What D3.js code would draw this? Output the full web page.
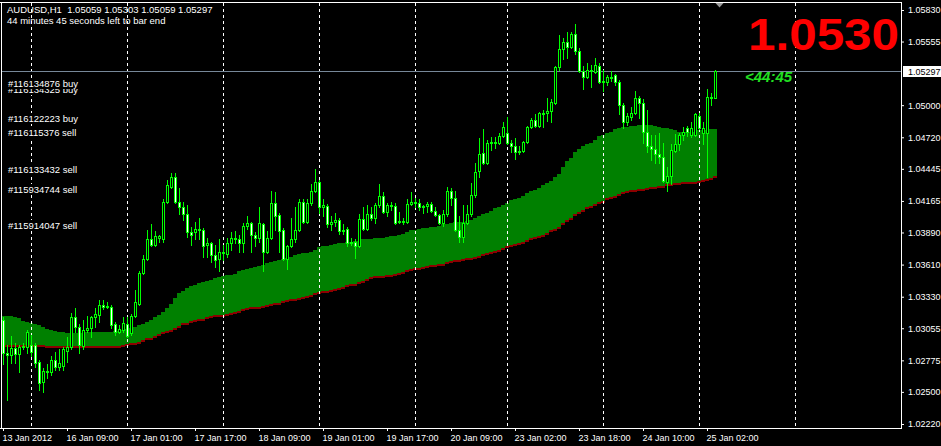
<!DOCTYPE html>
<html><head><meta charset="utf-8">
<script src="https://cdn.jsdelivr.net/npm/d3@7"></script>
<style>
html,body{margin:0;padding:0;background:#000;overflow:hidden}
svg{display:block}
text{font-family:"Liberation Sans",Arial,sans-serif}
</style></head><body><svg id="c" width="941" height="446"></svg>
<script>
// ---------------- DATA ----------------
const symbolTitle = "AUDUSD,H1";
const currentOHLC = [1.05059, 1.05303, 1.05059, 1.05297];
const timerText = "44 minutes 45 seconds left to bar end";
const bigPriceText = "1.0530";
const countdownText = "<44:45";

const open = [
1.0313,1.0284,1.0282,1.0288,1.0283,1.0289,1.0289,1.0291,1.0291,1.0276,
1.0259,1.0268,1.0267,1.0278,1.0272,1.0273,1.0286,1.0289,1.0315,1.0307,
1.0290,1.0304,1.0306,1.0315,1.0317,1.0326,1.0324,1.0324,1.0309,1.0302,
1.0304,1.0309,1.0301,1.0316,1.0327,1.0354,1.0366,1.0383,1.0378,1.0384,
1.0383,1.0416,1.0429,1.0437,1.0416,1.0411,1.0405,1.0389,1.0389,1.0392,
1.0391,1.0378,1.0380,1.0369,1.0366,1.0372,1.0370,1.0380,1.0384,1.0383,
1.0380,1.0395,1.0397,1.0387,1.0384,1.0396,1.0372,1.0384,1.0415,1.0404,
1.0391,1.0366,1.0377,1.0383,1.0391,1.0416,1.0398,1.0415,1.0425,1.0433,
1.0411,1.0412,1.0396,1.0398,1.0400,1.0390,1.0392,1.0380,1.0381,1.0377,
1.0401,1.0392,1.0405,1.0402,1.0413,1.0421,1.0407,1.0413,1.0412,1.0398,
1.0399,1.0398,1.0414,1.0416,1.0415,1.0411,1.0412,1.0414,1.0408,1.0404,
1.0397,1.0405,1.0425,1.0419,1.0391,1.0385,1.0397,1.0405,1.0422,1.0443,
1.0458,1.0450,1.0467,1.0468,1.0467,1.0473,1.0476,1.0467,1.0464,1.0459,
1.0460,1.0468,1.0481,1.0487,1.0482,1.0493,1.0493,1.0495,1.0502,1.0533,
1.0549,1.0555,1.0551,1.0562,1.0547,1.0530,1.0525,1.0531,1.0529,1.0534,
1.0520,1.0520,1.0525,1.0526,1.0520,1.0500,1.0485,1.0490,1.0493,1.0506,
1.0502,1.0477,1.0464,1.0462,1.0457,1.0455,1.0433,1.0438,1.0460,1.0466,
1.0474,1.0480,1.0474,1.0474,1.0491,1.0476,1.0476,1.0506,1.05059];

const high = [
1.0315,1.0291,1.0299,1.0293,1.0291,1.0293,1.0304,1.0300,1.0293,1.0278,
1.0271,1.0274,1.0281,1.0285,1.0287,1.0289,1.0298,1.0319,1.0323,1.0309,
1.0313,1.0316,1.0316,1.0323,1.0330,1.0330,1.0328,1.0326,1.0311,1.0308,
1.0315,1.0315,1.0318,1.0339,1.0355,1.0369,1.0391,1.0396,1.0390,1.0387,
1.0418,1.0435,1.0441,1.0441,1.0428,1.0416,1.0413,1.0394,1.0398,1.0402,
1.0393,1.0384,1.0381,1.0378,1.0383,1.0378,1.0384,1.0389,1.0390,1.0387,
1.0397,1.0403,1.0398,1.0389,1.0411,1.0397,1.0390,1.0425,1.0424,1.0406,
1.0393,1.0378,1.0402,1.0411,1.0418,1.0418,1.0418,1.0431,1.0444,1.0435,
1.0418,1.0414,1.0403,1.0406,1.0402,1.0396,1.0394,1.0384,1.0383,1.0405,
1.0411,1.0413,1.0411,1.0415,1.0431,1.0424,1.0415,1.0416,1.0415,1.0407,
1.0402,1.0418,1.0424,1.0419,1.0418,1.0413,1.0416,1.0416,1.0411,1.0405,
1.0409,1.0429,1.0428,1.0425,1.0403,1.0413,1.0413,1.0432,1.0450,1.0471,
1.0479,1.0470,1.0472,1.0472,1.0476,1.0485,1.0490,1.0470,1.0471,1.0464,
1.0469,1.0482,1.0489,1.0492,1.0494,1.0496,1.0506,1.0505,1.0534,1.0561,
1.0559,1.0564,1.0564,1.0571,1.0550,1.0534,1.0537,1.0535,1.0541,1.0537,
1.0531,1.0526,1.0530,1.0527,1.0522,1.0502,1.0493,1.0498,1.0512,1.0508,
1.0505,1.0496,1.0474,1.0474,1.0476,1.0467,1.0446,1.0466,1.0475,1.0476,
1.0481,1.0482,1.0485,1.0493,1.0493,1.0485,1.0514,1.0511,1.05303];

const low = [
1.0274,1.0243,1.0275,1.0275,1.0267,1.0287,1.0284,1.0281,1.0272,1.0252,
1.0250,1.0262,1.0265,1.0269,1.0269,1.0269,1.0276,1.0287,1.0302,1.0284,
1.0287,1.0302,1.0298,1.0307,1.0311,1.0322,1.0323,1.0306,1.0300,1.0301,
1.0302,1.0298,1.0300,1.0315,1.0326,1.0353,1.0365,1.0377,1.0377,1.0381,
1.0381,1.0415,1.0428,1.0415,1.0405,1.0400,1.0385,1.0378,1.0383,1.0383,
1.0368,1.0368,1.0363,1.0359,1.0355,1.0365,1.0368,1.0374,1.0380,1.0372,
1.0372,1.0392,1.0372,1.0377,1.0381,1.0355,1.0371,1.0383,1.0391,1.0372,
1.0365,1.0357,1.0376,1.0381,1.0390,1.0397,1.0397,1.0413,1.0424,1.0406,
1.0403,1.0394,1.0391,1.0395,1.0388,1.0388,1.0377,1.0378,1.0367,1.0376,
1.0391,1.0391,1.0400,1.0397,1.0411,1.0406,1.0403,1.0409,1.0396,1.0397,
1.0396,1.0397,1.0413,1.0411,1.0409,1.0406,1.0407,1.0407,1.0403,1.0396,
1.0395,1.0403,1.0413,1.0390,1.0381,1.0381,1.0396,1.0403,1.0420,1.0437,
1.0449,1.0449,1.0461,1.0463,1.0466,1.0472,1.0466,1.0459,1.0453,1.0457,
1.0459,1.0467,1.0480,1.0481,1.0481,1.0481,1.0486,1.0485,1.0501,1.0531,
1.0540,1.0541,1.0550,1.0545,1.0529,1.0514,1.0524,1.0516,1.0528,1.0519,
1.0512,1.0518,1.0521,1.0518,1.0492,1.0480,1.0483,1.0487,1.0492,1.0489,
1.0467,1.0459,1.0452,1.0450,1.0450,1.0433,1.0425,1.0431,1.0459,1.0461,
1.0470,1.0473,1.0472,1.0473,1.0479,1.0466,1.0437,1.0500,1.05059];

const close = [
1.0284,1.0282,1.0288,1.0283,1.0289,1.0290,1.0302,1.0285,1.0275,1.0258,
1.0268,1.0267,1.0278,1.0272,1.0275,1.0287,1.0289,1.0315,1.0307,1.0291,
1.0304,1.0306,1.0315,1.0318,1.0326,1.0324,1.0325,1.0308,1.0302,1.0305,
1.0310,1.0299,1.0316,1.0328,1.0354,1.0366,1.0383,1.0378,1.0386,1.0386,
1.0416,1.0430,1.0437,1.0416,1.0411,1.0405,1.0389,1.0387,1.0392,1.0391,
1.0377,1.0380,1.0369,1.0365,1.0372,1.0371,1.0380,1.0384,1.0383,1.0380,
1.0395,1.0397,1.0387,1.0384,1.0397,1.0372,1.0384,1.0415,1.0403,1.0390,
1.0366,1.0377,1.0383,1.0391,1.0416,1.0398,1.0415,1.0425,1.0433,1.0411,
1.0413,1.0396,1.0398,1.0400,1.0390,1.0391,1.0380,1.0381,1.0377,1.0401,
1.0392,1.0405,1.0402,1.0413,1.0421,1.0407,1.0413,1.0412,1.0397,1.0399,
1.0398,1.0414,1.0416,1.0415,1.0411,1.0412,1.0414,1.0408,1.0404,1.0397,
1.0405,1.0425,1.0419,1.0391,1.0385,1.0397,1.0405,1.0422,1.0442,1.0457,
1.0450,1.0467,1.0468,1.0467,1.0473,1.0481,1.0467,1.0464,1.0459,1.0460,
1.0468,1.0481,1.0487,1.0482,1.0493,1.0492,1.0495,1.0503,1.0533,1.0549,
1.0555,1.0551,1.0562,1.0547,1.0530,1.0525,1.0531,1.0530,1.0535,1.0520,
1.0521,1.0525,1.0524,1.0520,1.0500,1.0485,1.0491,1.0493,1.0506,1.0502,
1.0477,1.0464,1.0462,1.0457,1.0455,1.0434,1.0438,1.0461,1.0466,1.0474,
1.0477,1.0477,1.0480,1.0492,1.0480,1.0480,1.0507,1.0507,1.05297];

// envelope band (upper / lower edge per bar)
const bandUpper = [
1.0316,1.0316,1.0316,1.0315,1.0314,1.0312,1.0311,1.0310,1.0309,1.0308,
1.0307,1.0305,1.0304,1.0303,1.0302,1.0302,1.0301,1.0301,1.0301,1.0301,
1.0301,1.0302,1.0302,1.0302,1.0302,1.0302,1.0302,1.0302,1.0303,1.0303,
1.0304,1.0305,1.0306,1.0307,1.0308,1.0309,1.0311,1.0313,1.0315,1.0317,
1.0320,1.0323,1.0327,1.0332,1.0336,1.0338,1.0341,1.0342,1.0343,1.0345,
1.0346,1.0347,1.0348,1.0349,1.0350,1.0351,1.0352,1.0352,1.0353,1.0355,
1.0356,1.0357,1.0358,1.0359,1.0360,1.0361,1.0362,1.0363,1.0364,1.0365,
1.0366,1.0367,1.0368,1.0369,1.0370,1.0371,1.0371,1.0372,1.0374,1.0376,
1.0377,1.0377,1.0378,1.0379,1.0380,1.0380,1.0381,1.0381,1.0382,1.0382,
1.0383,1.0383,1.0383,1.0384,1.0384,1.0384,1.0385,1.0386,1.0386,1.0387,
1.0388,1.0389,1.0391,1.0391,1.0392,1.0393,1.0393,1.0394,1.0394,1.0395,
1.0396,1.0396,1.0397,1.0398,1.0398,1.0398,1.0399,1.0400,1.0402,1.0403,
1.0405,1.0406,1.0408,1.0410,1.0411,1.0413,1.0415,1.0417,1.0418,1.0419,
1.0421,1.0423,1.0425,1.0426,1.0428,1.0430,1.0432,1.0434,1.0437,1.0440,
1.0446,1.0451,1.0454,1.0459,1.0462,1.0464,1.0466,1.0467,1.0470,1.0473,
1.0474,1.0476,1.0477,1.0479,1.0480,1.0481,1.0481,1.0482,1.0482,1.0483,
1.0483,1.0483,1.0483,1.0482,1.0481,1.0480,1.0480,1.0479,1.0478,1.0477,
1.0477,1.0477,1.0477,1.0477,1.0478,1.0478,1.0478,1.0479,1.0479];

const bandLower = [
1.0290,1.0290,1.0290,1.0290,1.0290,1.0290,1.0290,1.0290,1.0290,1.0290,
1.0290,1.0289,1.0289,1.0289,1.0289,1.0289,1.0289,1.0289,1.0289,1.0289,
1.0289,1.0289,1.0289,1.0289,1.0289,1.0289,1.0289,1.0289,1.0289,1.0289,
1.0290,1.0291,1.0292,1.0292,1.0293,1.0294,1.0296,1.0296,1.0298,1.0300,
1.0301,1.0302,1.0303,1.0305,1.0307,1.0309,1.0309,1.0311,1.0312,1.0313,
1.0313,1.0314,1.0315,1.0316,1.0316,1.0316,1.0317,1.0318,1.0319,1.0320,
1.0321,1.0322,1.0323,1.0323,1.0323,1.0324,1.0325,1.0326,1.0327,1.0327,
1.0328,1.0329,1.0330,1.0330,1.0331,1.0332,1.0333,1.0334,1.0335,1.0336,
1.0337,1.0337,1.0338,1.0339,1.0340,1.0341,1.0342,1.0343,1.0343,1.0345,
1.0346,1.0348,1.0349,1.0350,1.0350,1.0350,1.0351,1.0351,1.0352,1.0353,
1.0354,1.0355,1.0356,1.0357,1.0357,1.0358,1.0359,1.0360,1.0360,1.0361,
1.0361,1.0362,1.0363,1.0364,1.0364,1.0365,1.0366,1.0366,1.0367,1.0368,
1.0369,1.0370,1.0371,1.0372,1.0373,1.0375,1.0376,1.0377,1.0378,1.0379,
1.0380,1.0382,1.0383,1.0384,1.0385,1.0386,1.0388,1.0390,1.0391,1.0393,
1.0396,1.0399,1.0401,1.0404,1.0406,1.0408,1.0410,1.0411,1.0413,1.0415,
1.0416,1.0418,1.0419,1.0420,1.0422,1.0423,1.0424,1.0425,1.0425,1.0426,
1.0426,1.0427,1.0428,1.0428,1.0429,1.0429,1.0430,1.0430,1.0431,1.0431,
1.0432,1.0432,1.0432,1.0432,1.0433,1.0434,1.0435,1.0436,1.0437];

const priceTicks = [1.05830,1.05555,1.05000,1.04720,1.04445,1.04165,1.03890,
                    1.03610,1.03330,1.03055,1.02775,1.02500,1.02220];
const timeTickBars = [0,16,32,48,64,80,96,112,128,144,160,176];
const timeTickLabels = ["13 Jan 2012","16 Jan 09:00","17 Jan 01:00","17 Jan 17:00",
  "18 Jan 09:00","19 Jan 01:00","19 Jan 17:00","20 Jan 09:00","23 Jan 02:00",
  "23 Jan 18:00","24 Jan 10:00","25 Jan 02:00"];
const daySeparatorBars = [7,31,55,79,103,126,150,174,198];

const orderLabelTexts = ["#116134325 buy","#116134876 buy","#116122223 buy","#116115376 sell",
  "#116133432 sell","#115934744 sell","#115914047 sell"];
const orderLabelPrices = [1.0511,1.0516,1.0485,1.0473,1.0441,1.0423,1.0392];

// ---------------- DRAW ----------------
const W = 941, H = 446;
const svg = d3.select("#c");
const x = d3.scaleLinear().domain([0, 224.5]).range([3, 901]);
const y = d3.scaleLinear().domain([1.02220, 1.05830]).range([424, 10]);
const px = k => Math.round(x(k));
const py = v => Math.round(y(v));

svg.append("rect").attr("width", W).attr("height", H).attr("fill", "#000");
svg.append("defs").append("clipPath").attr("id", "clip")
  .append("rect").attr("x", 2).attr("y", 3).attr("width", 899).attr("height", 425);
const plot = svg.append("g").attr("clip-path", "url(#clip)");

// band
const nb = Math.min(bandUpper.length, bandLower.length);
const bandIdx = d3.range(nb);
plot.append("g").selectAll("rect").data(bandIdx).join("rect")
  .attr("x", k => px(k) - 2).attr("width", 4)
  .attr("y", k => py(bandUpper[k]))
  .attr("height", k => Math.max(0, py(bandLower[k]) - py(bandUpper[k])))
  .attr("fill", "#008000");
plot.append("g").selectAll("rect").data(bandIdx).join("rect")
  .attr("x", k => px(k) - 2).attr("width", 4)
  .attr("y", k => py(bandLower[k]) - 1).attr("height", 2)
  .attr("fill", "#8b0000");

// day separators
plot.append("g").selectAll("line").data(daySeparatorBars).join("line")
  .attr("x1", k => px(k) + 0.5).attr("x2", k => px(k) + 0.5)
  .attr("y1", 3).attr("y2", 428)
  .attr("stroke", "#fff").attr("stroke-width", 1).attr("stroke-dasharray", "3,3");

// current price line
const lastClose = currentOHLC[3];
plot.append("line").attr("x1", 0).attr("x2", 901)
  .attr("y1", py(lastClose) + 0.5).attr("y2", py(lastClose) + 0.5)
  .attr("stroke", "#778899").attr("stroke-width", 1);

// candles
const n = Math.min(open.length, high.length, low.length, close.length);
const cg = plot.append("g");
for (let k = 0; k < n; k++) {
  const o = open[k], c = close[k];
  const hi = Math.max(high[k], o, c), lo = Math.min(low[k], o, c);
  const cx = px(k);
  const yh = py(hi), yl = py(lo);
  cg.append("rect").attr("x", cx).attr("y", yh).attr("width", 1)
    .attr("height", yl - yh + 1).attr("fill", "#00ff00");
  const yt = py(Math.max(o, c)), yb = py(Math.min(o, c));
  cg.append("rect").attr("x", cx - 1).attr("y", yt).attr("width", 3)
    .attr("height", yb - yt + 1).attr("fill", "#00ff00");
  if (yb - yt >= 2) {
    cg.append("rect").attr("x", cx).attr("y", yt + 1).attr("width", 1)
      .attr("height", yb - yt - 1).attr("fill", c >= o ? "#000" : "#fff");
  }
}

// frame
svg.append("line").attr("x1", 0).attr("x2", 902).attr("y1", 2.5).attr("y2", 2.5).attr("stroke", "#fff");
svg.append("line").attr("x1", 1.5).attr("x2", 1.5).attr("y1", 2).attr("y2", 429).attr("stroke", "#fff");
svg.append("line").attr("x1", 901.5).attr("x2", 901.5).attr("y1", 2).attr("y2", 429).attr("stroke", "#fff");
svg.append("line").attr("x1", 0).attr("x2", 902).attr("y1", 428.5).attr("y2", 428.5).attr("stroke", "#fff");

// right price axis
const yAxis = d3.axisRight(y).tickValues(priceTicks).tickSize(3).tickSizeOuter(0)
  .tickPadding(4).tickFormat(d3.format(".5f"));
const ya = svg.append("g").attr("transform", "translate(901,0)").call(yAxis);
ya.select(".domain").remove();
ya.selectAll(".tick line").attr("stroke", "#fff");
ya.selectAll(".tick text").attr("fill", "#fff").attr("font-size", 9)
  .attr("font-family", "Liberation Sans, Arial, sans-serif");

// current price box
svg.append("rect").attr("x", 903).attr("y", py(lastClose) - 5).attr("width", 38).attr("height", 11).attr("fill", "#fff");
svg.append("text").attr("x", 908).attr("y", py(lastClose) + 4).attr("font-size", 9)
  .attr("fill", "#000").text(d3.format(".5f")(lastClose));

// bottom time axis
const xAxis = d3.axisBottom(x).tickValues(timeTickBars).tickSize(3).tickSizeOuter(0)
  .tickFormat((d, i) => timeTickLabels[i]);
const xa = svg.append("g").attr("transform", "translate(0,428)").call(xAxis);
xa.select(".domain").remove();
xa.selectAll(".tick line").attr("stroke", "#fff");
xa.selectAll(".tick text").attr("fill", "#fff").attr("font-size", 9)
  .attr("font-family", "Liberation Sans, Arial, sans-serif")
  .attr("text-anchor", "start").attr("x", -1).attr("dy", null).attr("y", 13);

// shift marker
const sx = px(n) + 0.5;
svg.append("path").attr("d", `M${sx - 4},3L${sx + 4},3L${sx},7.5Z`).attr("fill", "#9a9a9a");

// header text
svg.append("text").attr("x", 7).attr("y", 13).attr("font-size", 9.5).attr("fill", "#fff")
  .attr("xml:space", "preserve")
  .text(symbolTitle + "  " + currentOHLC.map(d3.format(".5f")).join(" "));
svg.append("text").attr("x", 7).attr("y", 24).attr("font-size", 9.5).attr("fill", "#fff").text(timerText);

// order labels
const lg = svg.append("g");
orderLabelTexts.forEach((t, i) => {
  const b = py(orderLabelPrices[i]);
  const g = lg.append("g");
  const txt = g.append("text").attr("x", 8).attr("y", b).attr("font-size", 9.5).attr("fill", "#fff").text(t);
  const w = txt.node().getComputedTextLength();
  g.insert("rect", "text").attr("x", 7).attr("y", b - 9).attr("width", w + 2).attr("height", 11).attr("fill", "#000");
});

// big price and countdown
svg.append("text").attr("x", 748).attr("y", 50).attr("font-size", 45).attr("font-weight", "bold")
  .attr("fill", "#ff0000").attr("textLength", 151).attr("lengthAdjust", "spacingAndGlyphs")
  .text(bigPriceText);
svg.append("text").attr("x", px(n - 1) + 30).attr("y", py(lastClose) + 11)
  .attr("font-size", 15).attr("font-weight", "bold").attr("font-style", "italic")
  .attr("fill", "#22e022").text(countdownText);
</script></body></html>
